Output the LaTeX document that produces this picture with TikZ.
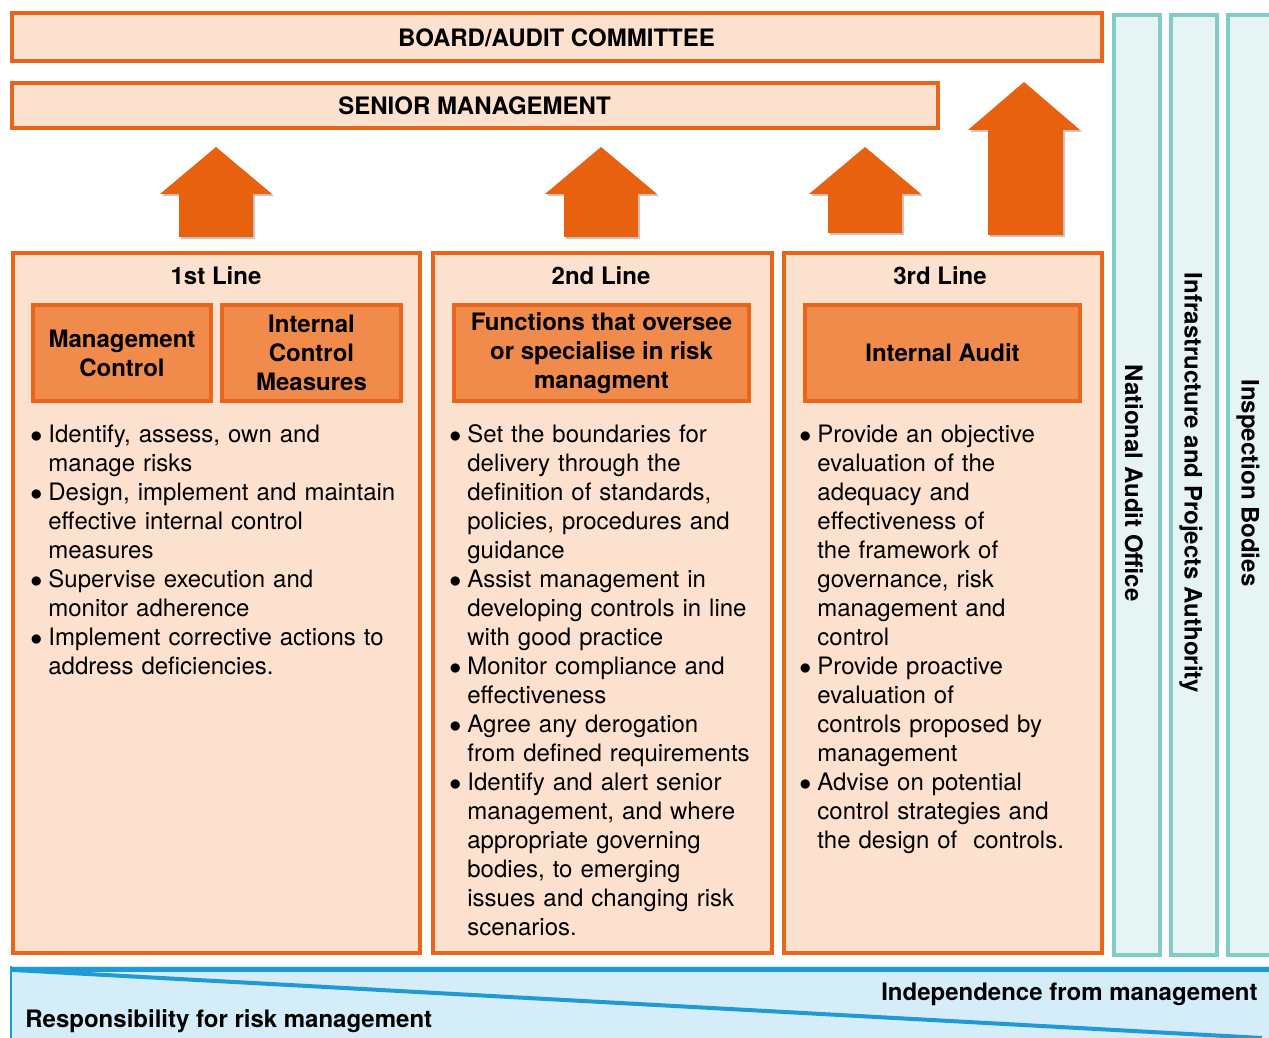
\documentclass[tikz,border=0pt]{standalone}
\usepackage{fontspec}
\setmainfont{TeX Gyre Heros}
\usetikzlibrary{positioning}

\definecolor{lineorange}{HTML}{E8661C}
\definecolor{peach}{HTML}{FCE1CF}
\definecolor{subfill}{HTML}{F08B4C}
\definecolor{arroworange}{HTML}{E8610F}
\definecolor{tealline}{HTML}{82CCC7}
\definecolor{tealfill}{HTML}{E7F4F4}
\definecolor{bandblue}{HTML}{1E9AD6}
\definecolor{bandfill}{HTML}{D5EDF9}

\newenvironment{dotlist}{%
  \begin{list}{$\bullet$}{%
    \setlength\leftmargin{10pt}\setlength\labelwidth{6pt}%
    \setlength\labelsep{3pt}\setlength\itemsep{0pt}%
    \setlength\topsep{0pt}\setlength\partopsep{0pt}%
    \setlength\parsep{0pt}\setlength\itemindent{0pt}}}%
  {\end{list}}

\begin{document}
\begin{tikzpicture}[
    x=0.5pt, y=-0.5pt,
    every node/.style={font=\fontsize{12}{14.5}\selectfont},
    topbox/.style={draw=lineorange, line width=2pt, fill=peach, inner sep=0pt,
      font=\bfseries\fontsize{12}{14.5}\selectfont},
    linebox/.style={draw=lineorange, line width=2pt, fill=peach, inner sep=0pt, anchor=north west},
    subbox/.style={draw=lineorange, line width=2pt, fill=subfill, inner sep=0pt, anchor=north west,
      align=center, font=\bfseries\fontsize{12}{14.5}\selectfont},
    linetitle/.style={font=\bfseries\fontsize{12}{14.5}\selectfont},
    listtext/.style={anchor=north west, inner sep=0pt, align=left},
    tealcol/.style={draw=tealline, line width=2pt, fill=tealfill, inner sep=0pt, anchor=north west,
      minimum width=23pt, minimum height=470pt},
    tealtext/.style={rotate=-90, font=\bfseries\fontsize{12}{14.5}\selectfont},
    blockarrow/.style={fill=arroworange},
    arrowshadow/.style={fill=black!22, xshift=1pt, yshift=-1pt},
    bandtext/.style={font=\bfseries\fontsize{12}{14.5}\selectfont, inner sep=0pt}
]
\useasboundingbox (0,0) rectangle (1269,1038);

% top bars
\node[topbox, minimum width=545pt, minimum height=24pt] (board) at (556.5,37.5) {BOARD/AUDIT COMMITTEE};
\node[topbox, minimum width=463pt, minimum height=22.5pt] (senior) at (474.5,106) {SENIOR MANAGEMENT};

% outside bodies
\node[tealcol] (nao) at (1112,13) {};
\node[tealcol] (ipa) at (1169,13) {};
\node[tealcol, minimum width=40pt] (ib) at (1226,13) {};
\node[tealtext] (naotext) at (1134,483) {National Audit Office};
\node[tealtext] (ipatext) at (1191,483) {Infrastructure and Projects Authority};
\node[tealtext] (ibtext) at (1248,483) {Inspection Bodies};

% arrows up
\fill[arrowshadow] (216,147) -- (272,194) -- (253,194) -- (253,237) -- (179,237) -- (179,194) -- (160,194) -- cycle;
\fill[blockarrow] (216,147) -- (272,194) -- (253,194) -- (253,237) -- (179,237) -- (179,194) -- (160,194) -- cycle;
\fill[arrowshadow] (601,147) -- (657,194) -- (638,194) -- (638,237) -- (564,237) -- (564,194) -- (545,194) -- cycle;
\fill[blockarrow] (601,147) -- (657,194) -- (638,194) -- (638,237) -- (564,237) -- (564,194) -- (545,194) -- cycle;
\fill[arrowshadow] (865,147) -- (921,194) -- (902,194) -- (902,233) -- (828,233) -- (828,194) -- (809,194) -- cycle;
\fill[blockarrow] (865,147) -- (921,194) -- (902,194) -- (902,233) -- (828,233) -- (828,194) -- (809,194) -- cycle;
\fill[arrowshadow] (1024,82) -- (1080,130) -- (1063,130) -- (1063,235) -- (988,235) -- (988,130) -- (968,130) -- cycle;
\fill[blockarrow] (1024,82) -- (1080,130) -- (1063,130) -- (1063,235) -- (988,235) -- (988,130) -- (968,130) -- cycle;

% the three lines
\node[linebox, minimum width=203.5pt, minimum height=350pt] (line1) at (11,251) {};
\node[linebox, minimum width=169.5pt, minimum height=350pt] (line2) at (431,251) {};
\node[linebox, minimum width=159pt, minimum height=350pt] (line3) at (782,251) {};

\node[linetitle] (title1) at (216,276) {1st Line};
\node[linetitle] (title2) at (601,276) {2nd Line};
\node[linetitle] (title3) at (940,276) {3rd Line};

\node[subbox, minimum width=89pt, minimum height=48pt] (mgmt) at (31,303) {Management\\Control};
\node[subbox, minimum width=89.5pt, minimum height=48pt] (icm) at (220,303) {Internal\\Control\\Measures};
\node[subbox, minimum width=147.5pt, minimum height=48pt] (funcs) at (452,303) {Functions that oversee\\or specialise in risk\\managment};
\node[subbox, minimum width=137.5pt, minimum height=48pt] (audit) at (803,303) {Internal Audit};

% bullet texts
\node[listtext, text width=200pt] (list1) at (28,413) {\begin{dotlist}
  \item Identify, assess, own and\\manage risks
  \item Design, implement and maintain\\effective internal control\\measures
  \item Supervise execution and\\monitor adherence
  \item Implement corrective actions to\\address deficiencies.
\end{dotlist}};
\node[listtext, text width=170pt] (list2) at (447,413) {\begin{dotlist}
  \item Set the boundaries for\\delivery through the\\definition of standards,\\policies, procedures and\\guidance
  \item Assist management in\\developing controls in line\\with good practice
  \item Monitor compliance and\\effectiveness
  \item Agree any derogation\\from defined requirements
  \item Identify and alert senior\\management, and where\\appropriate governing\\bodies, to emerging\\issues and changing risk\\scenarios.
\end{dotlist}};
\node[listtext, text width=150pt] (list3) at (797,413) {\begin{dotlist}
  \item Provide an objective\\evaluation of the\\adequacy and\\effectiveness of\\the framework of\\governance, risk\\management and\\control
  \item Provide proactive\\evaluation of\\controls proposed by\\management
  \item Advise on potential\\control strategies and\\the design of\ \ controls.
\end{dotlist}};

% bottom band
\fill[bandfill] (10,966) rectangle (1275,1045);
\draw[bandblue, line width=1pt] (11,966) -- (11,1045);
\draw[bandblue, line width=2.5pt] (10,969) -- (1275,969);
\draw[bandblue, line width=2pt] (14,970) -- (1262,1038);
\node[bandtext, anchor=east] (indep) at (1258,994) {Independence from management};
\node[bandtext, anchor=west] (resp) at (25,1021) {Responsibility for risk management};

\end{tikzpicture}
\end{document}
